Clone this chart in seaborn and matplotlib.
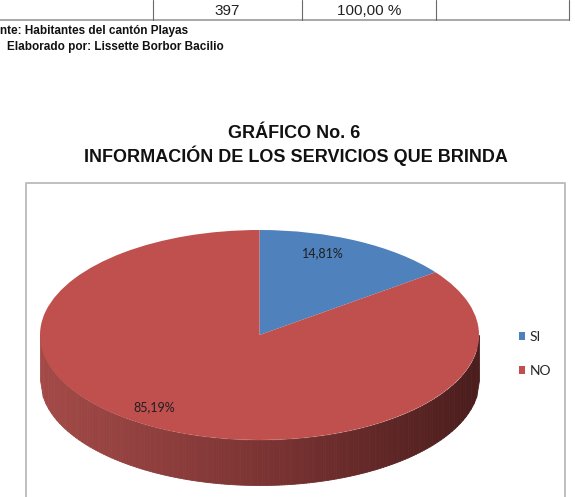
import numpy as np
import matplotlib
matplotlib.use('Agg')
import matplotlib.pyplot as plt
import seaborn as sns
from matplotlib.colors import LinearSegmentedColormap

# datos del grafico
categorias = ['SI', 'NO']
porcentajes = [14.81, 85.19]
colores = ['#4f81bd', '#c0504d']
total_encuestados = '397'
total_pct = '100,00 %'
titulo1 = 'GRÁFICO No. 6'
titulo2 = 'INFORMACIÓN DE LOS SERVICIOS QUE BRINDA'
fuente = 'nte: Habitantes del cantón Playas'
elaborado = 'Elaborado por: Lissette Borbor Bacilio'

sns.set_theme(style='white')
plt.rcParams['font.family'] = ['Liberation Sans', 'DejaVu Sans']

W, H = 575, 497
fig = plt.figure(figsize=(W / 100, H / 100), dpi=100)

# capa de fondo en pixeles (tabla, textos, recuadro)
bg = fig.add_axes([0, 0, 1, 1])
bg.set_xlim(0, W)
bg.set_ylim(H, 0)
bg.axis('off')

bg.plot([0, 569], [20, 20], color='#9a9a9a', lw=1.2)
for x in [153, 302, 436, 569]:
    bg.plot([x, x], [0, 20], color='#6a6a6a', lw=0.8)
bg.text(227.5, 11, total_encuestados, ha='center', va='center', fontsize=11, color='#222222')
bg.text(369, 11, total_pct, ha='center', va='center', fontsize=11, color='#222222')

bg.text(0, 31, fuente, ha='left', va='center', fontsize=8.5, fontweight='bold', color='#111111')
bg.text(7, 47, elaborado, ha='left', va='center', fontsize=8.5, fontweight='bold', color='#111111')

bg.text(294, 133, titulo1, ha='center', va='center', fontsize=13, fontweight='bold', color='#111111')
bg.text(296, 156, titulo2, ha='center', va='center', fontsize=13, fontweight='bold', color='#111111')

# recuadro del grafico
bg.plot([25.5, 25.5, 565, 565], [H + 5, 183, 183, H + 5], color='#bfbfbf', lw=1.4)

# pastel 3D (elipse con borde)
cx, cy, a, b = 259.5, 335, 219.5, 105
prof = 45 / b
pax = fig.add_axes([0, 0, 1, 1])
pax.patch.set_visible(False)

wedges, _ = pax.pie(porcentajes, colors=colores, startangle=90, counterclock=False,
                    wedgeprops=dict(linewidth=0), radius=1)
for w in wedges:
    w.set_zorder(3)

# costado del cilindro con degradado
cmap = LinearSegmentedColormap.from_list('lado', ['#a34a48', '#7c3433', '#4b1d1d'])
xs = np.linspace(-1, 1, 161)
for i in range(len(xs) - 1):
    x0, x1 = xs[i], xs[i + 1]
    y0, y1 = -np.sqrt(max(0, 1 - x0 ** 2)), -np.sqrt(max(0, 1 - x1 ** 2))
    c = cmap(i / (len(xs) - 2))
    pax.fill_between([x0, x1], [y0, y1], [y0 - prof, y1 - prof], color=c, lw=0.6, edgecolor=c, zorder=1)

pax.set_aspect('auto')
pax.set_xlim((0 - cx) / a, (W - cx) / a)
pax.set_ylim((cy - H) / b, cy / b)
pax.axis('off')

# etiquetas de porcentaje
label_px = [(323, 253), (154, 407)]
for (px, py), v in zip(label_px, porcentajes):
    pax.text((px - cx) / a, (cy - py) / b, f'{v:.2f}%'.replace('.', ','), ha='center', va='center',
             fontsize=9, family=['Lato', 'DejaVu Sans'], color='#1f1f1f', zorder=5)

pax.legend(wedges, categorias, loc='upper left', bbox_to_anchor=(512 / W, 1 - 324 / H),
           bbox_transform=fig.transFigure, frameon=False, handlelength=0.45, handleheight=0.45,
           handletextpad=0.3, labelspacing=1.6, borderpad=0, prop={'family': 'Lato', 'size': 10})

fig.savefig('out.png', dpi=100)
